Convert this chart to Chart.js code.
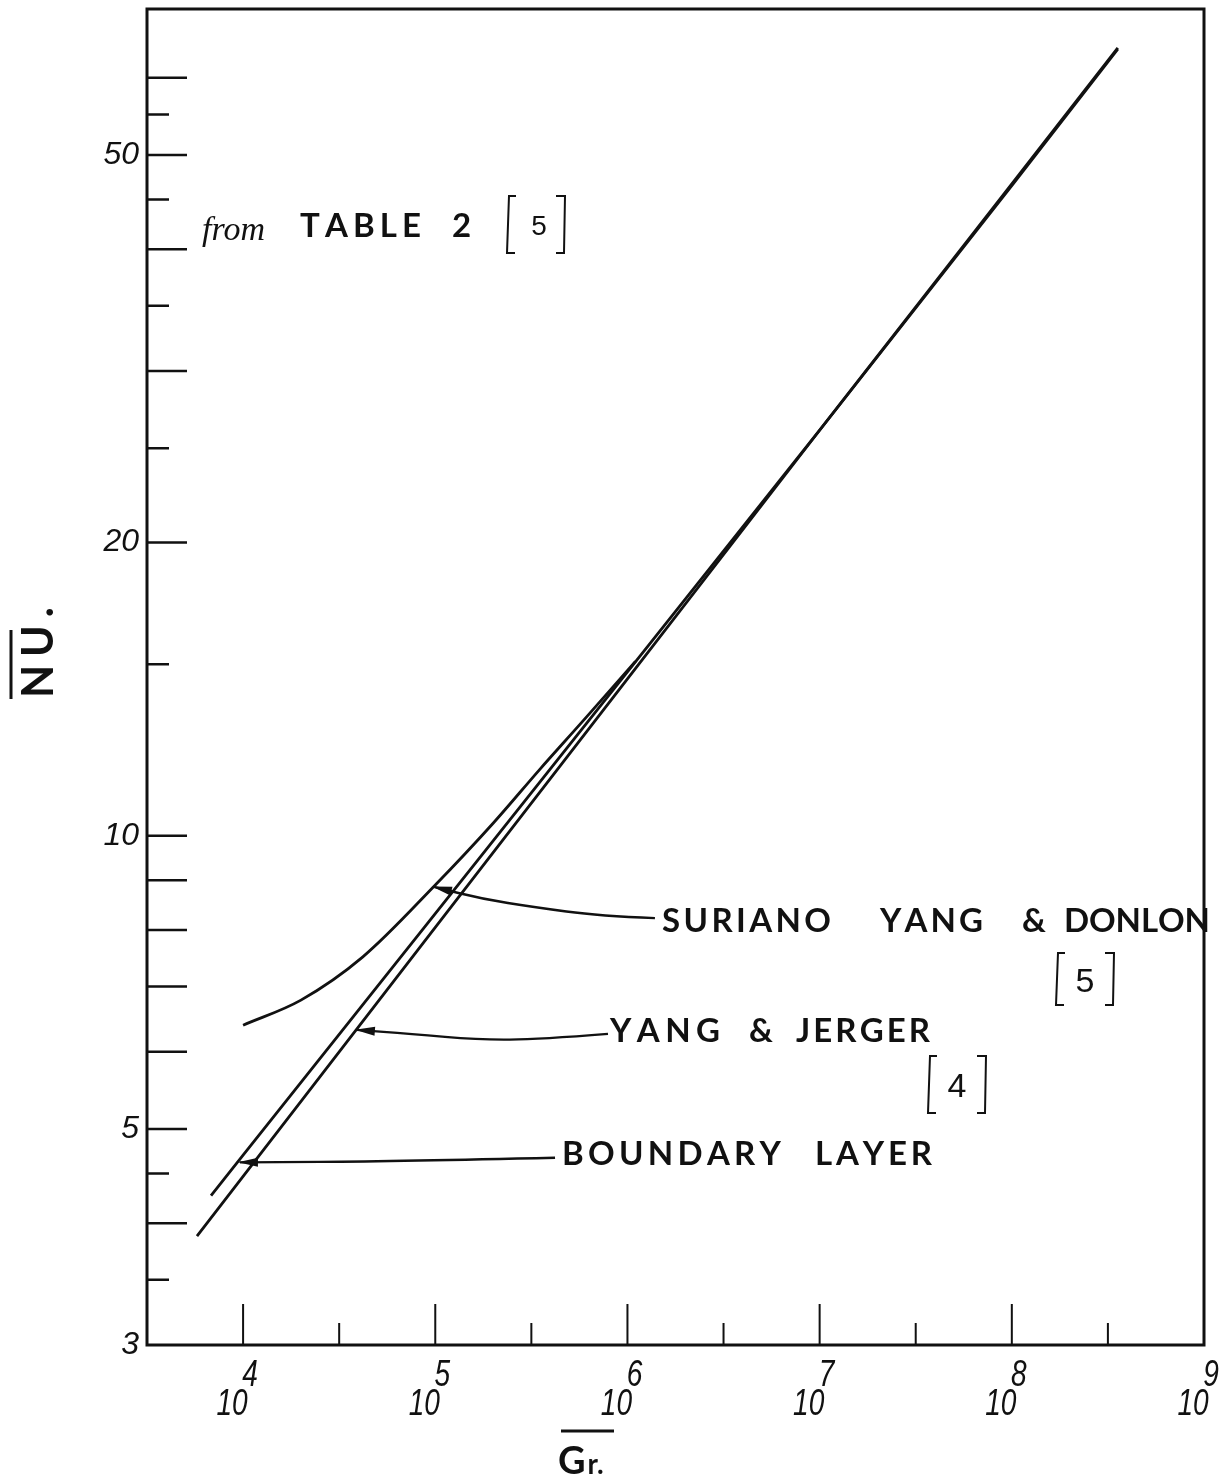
<!DOCTYPE html>
<html lang="en">
<head>
<meta charset="UTF-8">
<title>Nu vs Gr - comparison of correlations</title>
<script src="https://cdn.jsdelivr.net/npm/chart.js"></script>
<style>
  html, body { margin: 0; padding: 0; background: #fff; }
  #wrap { width: 1227px; height: 1480px; }
  canvas { display: block; }
</style>
</head>
<body>
<div id="wrap"><canvas id="nuChart" width="1227" height="1480"></canvas></div>
<script>
// Boundary layer solution
const grBoundary = [6810, 1e4, 1e5, 1e6, 1e7, 1e8, 3.56e8];
const nuBoundary = [4.27, 4.70, 8.32, 14.73, 26.09, 46.7, 64.4];

// Yang & Jerger [4]
const grYangJerger = [5755, 1e4, 1e5, 1e6, 1e7, 1e8, 3.56e8];
const nuYangJerger = [3.88, 4.47, 8.05, 14.49, 26.08, 46.5, 64.2];

// Suriano, Yang & Donlon [5] (from table 2)
const grSuriano = [1e4, 2e4, 4.2e4, 1e5, 2e5, 3.5e5, 6e5, 1.1e6];
const nuSuriano = [6.39, 6.78, 7.51, 8.9, 10.3, 11.7, 13.18, 15.1];

// axis ticks
const grMajor = [1e4, 1e5, 1e6, 1e7, 1e8];
const grMinor = [3.162e4, 3.162e5, 3.162e6, 3.162e7, 3.162e8];
const grLabelDecades = [4, 5, 6, 7, 8, 9];
const nuMajor = [4, 5, 6, 7, 8, 9, 10, 20, 30, 40, 50, 60];
const nuMinor = [3.5, 4.5, 15, 25, 35, 45, 55];
const nuLabels = [3, 5, 10, 20, 50];

// leader lines, from the label end to the arrow tip
const grArrowSuriano = [1.39e6, 7.19e5, 3.22e5, 1.77e5, 9.84e4];
const nuArrowSuriano = [8.23, 8.27, 8.45, 8.61, 8.86];
const grArrowYJ = [7.92e5, 3.5e5, 1.71e5, 7.38e4, 3.91e4];
const nuArrowYJ = [6.26, 6.18, 6.17, 6.26, 6.32];
const grArrowBL = [4.2e5, 6.55e4, 9.63e3];
const nuArrowBL = [4.67, 4.63, 4.62];

const pts = (xs, ys) => xs.map((x, i) => ({x: x, y: ys[i]}));

function spaced(ctx, text, x0, x1, base) {
  const chars = [...text];
  const w = chars.map(c => ctx.measureText(c).width);
  const total = w.reduce((s, v) => s + v, 0);
  const gap = chars.length > 1 ? (x1 - x0 - total) / (chars.length - 1) : 0;
  let x = x0;
  chars.forEach((c, i) => { ctx.fillText(c, x, base); x += w[i] + gap; });
}

// narrow hand-lettered digits: squeeze the font sideways
function narrow(ctx, text, cx, base, size) {
  ctx.save();
  ctx.translate(cx, base);
  ctx.scale(0.78, 1);
  ctx.font = 'italic ' + size + 'px "Liberation Sans", sans-serif';
  ctx.textAlign = 'center';
  ctx.fillText(text, 0, 0);
  ctx.restore();
}

function bracket(ctx, x0, x1, y0, y1) {
  ctx.lineWidth = 2;
  ctx.beginPath();
  ctx.moveTo(x0 + 9, y0); ctx.lineTo(x0 + 2, y0); ctx.lineTo(x0, y1); ctx.lineTo(x0 + 8, y1);
  ctx.moveTo(x1 - 9, y0); ctx.lineTo(x1, y0); ctx.lineTo(x1 - 1, y1); ctx.lineTo(x1 - 9, y1);
  ctx.stroke();
}

function leader(ctx, chart, grs, nus) {
  const sx = chart.scales.x, sy = chart.scales.y;
  const p = grs.map((g, i) => [sx.getPixelForValue(g), sy.getPixelForValue(nus[i])]);
  ctx.lineWidth = 2.4;
  ctx.beginPath();
  ctx.moveTo(p[0][0], p[0][1]);
  for (let i = 1; i < p.length - 1; i++) {
    ctx.quadraticCurveTo(p[i][0], p[i][1], (p[i][0] + p[i + 1][0]) / 2, (p[i][1] + p[i + 1][1]) / 2);
  }
  const tip = p[p.length - 1], prev = p[p.length - 2];
  ctx.lineTo(tip[0], tip[1]);
  ctx.stroke();
  const ang = Math.atan2(tip[1] - prev[1], tip[0] - prev[0]);
  ctx.save();
  ctx.translate(tip[0], tip[1]);
  ctx.rotate(ang);
  ctx.beginPath();
  ctx.moveTo(2, 0); ctx.lineTo(-18, -4.5); ctx.lineTo(-18, 4.5); ctx.closePath();
  ctx.fill();
  ctx.restore();
}

const paper = {
  id: 'paper',
  afterDraw(chart) {
    const ctx = chart.ctx, a = chart.chartArea;
    const sx = chart.scales.x, sy = chart.scales.y;
    ctx.save();
    ctx.strokeStyle = '#111';
    ctx.fillStyle = '#111';

    // frame
    ctx.lineWidth = 3;
    ctx.strokeRect(a.left, a.top, a.right - a.left, a.bottom - a.top);

    // y ticks, drawn inward from the left edge
    ctx.lineWidth = 2.5;
    ctx.beginPath();
    nuMajor.forEach(v => { const y = sy.getPixelForValue(v); ctx.moveTo(a.left, y); ctx.lineTo(a.left + 40, y); });
    nuMinor.forEach(v => { const y = sy.getPixelForValue(v); ctx.moveTo(a.left, y); ctx.lineTo(a.left + 22, y); });
    ctx.stroke();

    // x ticks, drawn upward from the bottom edge
    ctx.lineWidth = 2;
    ctx.beginPath();
    grMajor.forEach(v => { const x = sx.getPixelForValue(v); ctx.moveTo(x, a.bottom); ctx.lineTo(x, a.bottom - 41); });
    grMinor.forEach(v => { const x = sx.getPixelForValue(v); ctx.moveTo(x, a.bottom); ctx.lineTo(x, a.bottom - 22); });
    ctx.stroke();

    // tick labels
    ctx.font = 'italic 32px "Liberation Sans", sans-serif';
    ctx.textAlign = 'right';
    ctx.textBaseline = 'middle';
    nuLabels.forEach(v => ctx.fillText(String(v), a.left - 8, sy.getPixelForValue(v)));

    ctx.textBaseline = 'alphabetic';
    grLabelDecades.forEach(d => {
      const x = sx.getPixelForValue(Math.pow(10, d));
      narrow(ctx, String(d), x + 7, 1386, 36);
      narrow(ctx, '10', x - 11, 1415, 36);
    });

    // axis titles
    ctx.textAlign = 'left';
    ctx.font = 'bold 38px "Lato", "Liberation Sans", sans-serif';
    ctx.fillText('G', 558, 1474);
    const gw = ctx.measureText('G').width;
    ctx.font = 'bold 28px "Lato", "Liberation Sans", sans-serif';
    ctx.fillText('r.', 558 + gw + 2, 1474);
    ctx.lineWidth = 3;
    ctx.beginPath(); ctx.moveTo(561, 1431); ctx.lineTo(614, 1431); ctx.stroke();

    ctx.save();
    ctx.translate(53, 652);
    ctx.rotate(-Math.PI / 2);
    ctx.font = 'bold 43px "Lato", "Liberation Sans", sans-serif';
    spaced(ctx, 'NU.', -46, 45, 0);
    ctx.restore();
    ctx.beginPath(); ctx.moveTo(11, 630); ctx.lineTo(11, 699); ctx.stroke();

    // notes
    ctx.font = 'italic 34px "Liberation Serif", serif';
    ctx.fillText('from', 202, 240);
    ctx.font = 'bold 33px "Lato", "Liberation Sans", sans-serif';
    spaced(ctx, 'TABLE', 300, 421, 237);
    ctx.fillText('2', 452, 237);
    bracket(ctx, 507, 565, 196, 253);
    ctx.font = '28px "Liberation Sans", sans-serif';
    ctx.textAlign = 'center';
    ctx.fillText('5', 539, 235);
    ctx.textAlign = 'left';

    ctx.font = 'bold 33px "Lato", "Liberation Sans", sans-serif';
    spaced(ctx, 'SURIANO', 662, 831, 932);
    spaced(ctx, 'YANG', 880, 983, 932);
    ctx.fillText('&', 1022, 932);
    spaced(ctx, 'DONLON', 1064, 1210, 932);
    spaced(ctx, 'YANG', 610, 720, 1042);
    ctx.fillText('&', 749, 1042);
    spaced(ctx, 'JERGER', 796, 930, 1042);
    spaced(ctx, 'BOUNDARY', 562, 781, 1165);
    spaced(ctx, 'LAYER', 815, 932, 1165);

    bracket(ctx, 1056, 1114, 953, 1005);
    bracket(ctx, 928, 986, 1056, 1113);
    ctx.textAlign = 'center';
    ctx.font = '34px "Liberation Sans", sans-serif';
    ctx.fillText('5', 1085, 992);
    ctx.fillText('4', 957, 1097);

    // leader arrows
    leader(ctx, chart, grArrowSuriano, nuArrowSuriano);
    leader(ctx, chart, grArrowYJ, nuArrowYJ);
    leader(ctx, chart, grArrowBL, nuArrowBL);

    ctx.restore();
  }
};

const line = (label, data, extra) => Object.assign({
  label: label,
  data: data,
  showLine: true,
  pointRadius: 0,
  borderColor: '#111',
  borderWidth: 2.8,
  fill: false
}, extra || {});

new Chart(document.getElementById('nuChart'), {
  type: 'scatter',
  data: {
    datasets: [
      line('Boundary layer', pts(grBoundary, nuBoundary)),
      line('Yang & Jerger', pts(grYangJerger, nuYangJerger)),
      line('Suriano Yang & Donlon', pts(grSuriano, nuSuriano), {cubicInterpolationMode: 'monotone'})
    ]
  },
  options: {
    responsive: false,
    animation: false,
    layout: { padding: { left: 147, top: 9, right: 23, bottom: 135 } },
    plugins: { legend: { display: false }, tooltip: { enabled: false } },
    scales: {
      x: { type: 'logarithmic', min: Math.pow(10, 3.5), max: 1e9, display: false },
      y: { type: 'logarithmic', min: 3, max: 70.6, display: false }
    }
  },
  plugins: [paper]
});
</script>
</body>
</html>
